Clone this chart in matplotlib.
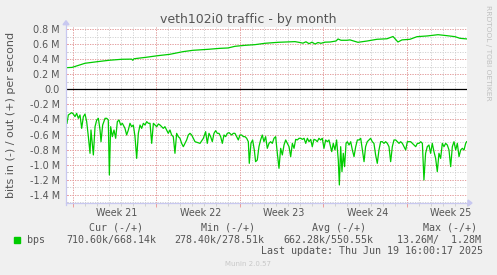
import matplotlib
matplotlib.use("Agg")
import matplotlib.pyplot as plt
from matplotlib.patches import Rectangle, Polygon
import numpy as np

# ---------------- data ----------------
title = "veth102i0 traffic - by month"
ylabel = "bits in (-) / out (+) per second"
week_labels = ["Week 21", "Week 22", "Week 23", "Week 24", "Week 25"]
week_label_pos = [4.2, 11.2, 18.2, 25.2, 32.2]      # days from left edge
week_starts = [0.5, 7.5, 14.5, 21.5, 28.5]
y_major = [-1.4, -1.2, -1.0, -0.8, -0.6, -0.4, -0.2, 0.0, 0.2, 0.4, 0.6, 0.8]
y_labels = ["-1.4 M", "-1.2 M", "-1.0 M", "-0.8 M", "-0.6 M", "-0.4 M", "-0.2 M",
            "0.0", "0.2 M", "0.4 M", "0.6 M", "0.8 M"]

# out (+), in M bits/s
out_days = [0.00, 0.42, 1.51, 2.54, 3.55, 4.59, 5.42, 5.51, 5.62, 6.62, 7.63, 8.63,
            9.72, 10.56, 11.82, 12.82, 13.50, 14.08, 14.92, 15.76, 16.60, 17.69,
            19.11, 19.53, 19.78, 20.03, 20.29, 20.54, 20.79, 21.04, 21.29, 21.63,
            22.05, 22.55, 22.72, 22.97, 23.47, 23.72, 24.39, 25.15, 25.98, 26.82,
            27.33, 27.74, 28.08, 28.75, 29.34, 30.18, 31.10, 31.85, 32.52, 32.94, 33.50]
out_vals = [0.287, 0.29, 0.345, 0.366, 0.385, 0.398, 0.40, 0.385, 0.405, 0.424, 0.446, 0.464,
            0.499, 0.517, 0.53, 0.543, 0.548, 0.57, 0.583, 0.592, 0.61, 0.623,
            0.632, 0.62, 0.612, 0.63, 0.605, 0.625, 0.60, 0.62, 0.61, 0.625,
            0.627, 0.64, 0.667, 0.65, 0.65, 0.655, 0.623, 0.64, 0.663, 0.67,
            0.70, 0.627, 0.655, 0.663, 0.698, 0.707, 0.724, 0.711, 0.698, 0.676, 0.668]

# in (-), in M bits/s
in_days = [0.00, 0.11, 0.39, 0.53, 0.67, 0.81, 0.95, 1.09, 1.23, 1.37, 1.51, 1.65, 1.79, 1.93,
           2.01, 2.12, 2.21, 2.35, 2.49, 2.63, 2.77, 2.85, 2.99, 3.19, 3.33, 3.46, 3.55, 3.66,
           3.80, 3.94, 4.08, 4.22, 4.36, 4.50, 4.64, 4.86, 5.00, 5.14, 5.28, 5.42, 5.56, 5.70,
           5.84, 5.98, 6.12, 6.26, 6.40, 6.54, 6.68, 6.82, 6.96, 7.10, 7.24, 7.38, 7.52, 7.66,
           7.80, 7.94, 8.07, 8.21, 8.35, 8.49, 8.63, 8.77, 8.91, 9.05, 9.19, 9.33, 9.47, 9.61,
           9.75, 9.89, 10.03, 10.17, 10.31, 10.45, 10.59,
           10.73, 11.15, 11.43, 11.62, 11.76, 11.90, 12.04, 12.18, 12.32, 12.46, 12.60, 12.74,
           12.88, 13.02, 13.16, 13.30, 13.44, 13.58, 13.80, 13.94, 14.08, 14.22, 14.36, 14.50,
           14.64, 14.78, 14.92, 15.06, 15.20, 15.28, 15.42, 15.56, 15.70, 15.81, 15.95, 16.09,
           16.23, 16.37, 16.51, 16.65, 16.79, 16.93, 17.07, 17.21, 17.35, 17.49, 17.63, 17.77,
           17.91, 18.05, 18.19, 18.33, 18.47, 18.61, 18.75, 18.89, 19.03, 19.17, 19.31, 19.45,
           19.59, 19.73, 19.87, 20.01, 20.15, 20.29, 20.43, 20.56, 20.70, 20.84, 20.98, 21.12,
           21.26, 21.40, 21.54, 21.68, 21.82, 21.96,
           22.19, 22.32, 22.46, 22.60, 22.74, 22.83, 22.94, 23.05, 23.16, 23.27, 23.39, 23.50,
           23.64, 23.78, 23.92, 24.06, 24.20, 24.34, 24.48, 24.62, 24.76, 24.90, 25.03, 25.17,
           25.31, 25.45, 25.59, 25.73, 25.87, 26.01, 26.15, 26.29, 26.43, 26.57, 26.71, 26.85,
           26.99, 27.13, 27.27, 27.41, 27.55, 27.69, 27.83, 27.97, 28.11, 28.25, 28.39, 28.53,
           28.67, 28.81, 28.95, 29.09, 29.23, 29.37, 29.51, 29.65, 29.79, 29.92, 30.06, 30.20,
           30.34, 30.48, 30.62, 30.76, 30.90, 31.04, 31.18, 31.32, 31.46, 31.60, 31.74, 31.88,
           32.02, 32.16, 32.30, 32.44, 32.58, 32.72, 32.86, 33.00, 33.14, 33.28, 33.42, 33.50]
in_vals = [-0.451, -0.341, -0.310, -0.328, -0.363, -0.319, -0.385, -0.341, -0.518, -0.363,
           -0.328, -0.429, -0.628, -0.849, -0.540, -0.717, -0.871, -0.496, -0.407, -0.385,
           -0.540, -0.695, -0.474, -0.385, -0.385, -0.407, -1.137, -0.496, -0.628, -0.540,
           -0.650, -0.429, -0.407, -0.474, -0.451, -0.518, -0.606, -0.540, -0.451, -0.496,
           -0.474, -0.628, -0.916, -0.584, -0.474, -0.518, -0.451, -0.474, -0.429, -0.451,
           -0.451, -0.717, -0.451, -0.474, -0.496, -0.460, -0.474, -0.496, -0.518, -0.496,
           -0.540, -0.584, -0.540, -0.606, -0.628, -0.849, -0.584, -0.628, -0.650, -0.717,
           -0.761, -0.717, -0.672, -0.606, -0.584, -0.606, -0.650,
           -0.695, -0.717, -0.650, -0.562, -0.717, -0.584, -0.628, -0.695, -0.584, -0.549,
           -0.584, -0.584, -0.628, -0.717, -0.606, -0.628, -0.584, -0.575, -0.606, -0.584,
           -0.584, -0.628, -0.672, -0.606, -0.606, -0.628, -0.628, -0.650, -0.695, -0.982,
           -0.717, -0.672, -0.805, -0.960, -0.938, -0.761, -0.672, -0.606, -0.695, -0.628,
           -0.783, -0.717, -0.695, -0.717, -0.650, -0.628, -0.849, -1.048, -0.783, -0.871,
           -0.739, -0.672, -0.717, -0.761, -0.893, -0.717, -0.783, -0.664, -0.672, -0.650,
           -0.650, -0.664, -0.650, -0.717, -0.650, -0.695, -0.664, -0.761, -0.664, -0.672,
           -0.695, -0.650, -0.672, -0.650, -0.783, -0.672, -0.695, -0.672,
           -0.827, -0.717, -0.805, -0.672, -0.938, -1.269, -0.761, -1.092, -0.849, -1.026,
           -0.717, -0.695, -0.739, -0.695, -0.805, -0.893, -0.761, -0.672, -0.672, -0.650,
           -0.805, -0.960, -0.761, -0.695, -0.672, -0.650, -0.695, -0.717, -0.871, -0.982,
           -0.805, -0.695, -0.695, -0.717, -0.695, -0.717, -0.761, -0.960, -0.761, -0.672,
           -0.672, -0.695, -0.717, -0.695, -0.717, -0.761, -0.805, -0.695, -0.695, -0.695,
           -0.717, -0.739, -0.761, -0.717, -0.717, -0.695, -0.717, -1.203, -0.849, -0.761,
           -0.739, -0.849, -0.717, -0.827, -0.916, -1.092, -0.849, -0.916, -0.717, -0.761,
           -0.717, -0.739, -0.805, -1.026, -0.761, -0.695, -0.805, -0.717, -0.893, -0.805,
           -0.783, -0.805, -0.717, -0.695]

legend_headers = ["Cur (-/+)", "Min (-/+)", "Avg (-/+)", "Max (-/+)"]
legend_values = ["710.60k/668.14k", "278.40k/278.51k", "662.28k/550.55k", "13.26M/  1.28M"]
series_name = "bps"
last_update = "Last update: Thu Jun 19 16:00:17 2025"
footer = "Munin 2.0.57"
watermark = "RRDTOOL / TOBI OETIKER"

# ---------------- layout ----------------
W, H = 497, 275
BG = "#F0F0F0"
TXT = "#555555"
GREEN = "#00CC00"
AXC = "#C8C8F0"
MINC = "#CCCCCC"
MAJC = "#EE9494"


def fx(x):
    return x / W


def fy(y):
    return 1 - y / H


fig = plt.figure(figsize=(W / 100, H / 100), dpi=100, facecolor=BG)
L, R, T, B = 67, 467, 26.7, 203
ax = fig.add_axes([fx(L), fy(B), (R - L) / W, (B - T) / H])
ax.set_facecolor("white")
XMAX = 33.53
YMIN, YMAX = -1.508, 0.830
ax.set_xlim(0, XMAX)
ax.set_ylim(YMIN, YMAX)
for s in ax.spines.values():
    s.set_visible(False)

dot = (0, (1.4, 1.6))
day_lines = np.arange(0.5, XMAX, 1.0)
# minor grid
for d in day_lines:
    ax.axvline(d, color=MINC, lw=0.6, ls=dot, zorder=1)
for v in np.arange(-1.5, 0.85, 0.1):
    ax.axhline(v, color=MINC, lw=0.6, ls=dot, zorder=1)
# major grid
for d in week_starts:
    ax.axvline(d, color=MAJC, lw=0.6, ls=dot, zorder=2)
for v in y_major:
    ax.axhline(v, color=MAJC, lw=0.6, ls=dot, zorder=2)

ax.axhline(0, color="black", lw=0.9, zorder=3)

ax.plot(out_days, out_vals, color=GREEN, lw=0.9, zorder=4)
ax.plot(in_days, in_vals, color=GREEN, lw=0.9, zorder=4)

# y ticks: labels on majors
ax.set_yticks(y_major, y_labels)
ax.tick_params(axis="y", which="major", length=2, width=0.6, color=MAJC, direction="inout",
               pad=4.2, labelsize=6.9, labelcolor=TXT)
ax.set_yticks(np.arange(-1.5, 0.85, 0.1), minor=True)
ax.tick_params(axis="y", which="minor", length=2, width=0.6, color=MINC, direction="inout")

# x ticks: red marks at week starts, labels mid-week
ax.set_xticks(week_starts, [""] * len(week_starts))
ax.tick_params(axis="x", which="major", length=3, width=0.6, color=MAJC, direction="out")
ax.set_xticks(week_label_pos, week_labels, minor=True)
ax.tick_params(axis="x", which="minor", length=0, pad=3.5, labelsize=6.9, labelcolor=TXT)
sec = ax.secondary_xaxis("bottom")
sec.set_xticks(day_lines, [""] * len(day_lines))
sec.tick_params(length=2, width=0.6, color=MINC, direction="out")
for s in sec.spines.values():
    s.set_visible(False)

# axis lines with arrows
fig.add_artist(plt.Line2D([fx(L - 1), fx(R + 1)], [fy(B), fy(B)], color=AXC, lw=0.9))
fig.add_artist(plt.Line2D([fx(L - 1), fx(L - 1)], [fy(B + 2), fy(T - 2)], color=AXC, lw=0.9))
fig.add_artist(Polygon([[fx(R + 1), fy(B - 3)], [fx(R + 1), fy(B + 3)], [fx(R + 5), fy(B)]],
                       closed=True, color=AXC))
fig.add_artist(Polygon([[fx(L - 4), fy(T - 2)], [fx(L + 2), fy(T - 2)], [fx(L - 1), fy(T - 6)]],
                       closed=True, color=AXC))

# texts
fig.text(fx(248.5), fy(19), title, ha="center", va="center", fontsize=9, color=TXT)
fig.text(fx(11), fy(115), ylabel, ha="center", va="center", rotation=90, fontsize=8, color=TXT)
fig.text(fx(488), fy(53), watermark, ha="center", va="center", rotation=270, fontsize=5.4,
         color="#C0C0C0")

mono = "DejaVu Sans Mono"
hdr_x = [89, 201, 312, 423]
val_x = [66, 174, 283, 397]
for x, s in zip(hdr_x, legend_headers):
    fig.text(fx(x), fy(228), s, ha="left", va="center", fontsize=7.2, color=TXT, family=mono)
for x, s in zip(val_x, legend_values):
    fig.text(fx(x), fy(240), s, ha="left", va="center", fontsize=7.2, color=TXT, family=mono)
fig.text(fx(26.7), fy(240), series_name, ha="left", va="center", fontsize=7.2, color=TXT,
         family=mono)
fig.add_artist(Rectangle((fx(14), fy(242.5)), 6 / W, 6 / H, color=GREEN))
fig.text(fx(483), fy(251.5), last_update, ha="right", va="center", fontsize=7.2, color=TXT,
         family=mono)
fig.text(fx(248), fy(264), footer, ha="center", va="center", fontsize=5, color="#C8C8C8")

fig.savefig("out.png", dpi=100, facecolor=BG)
